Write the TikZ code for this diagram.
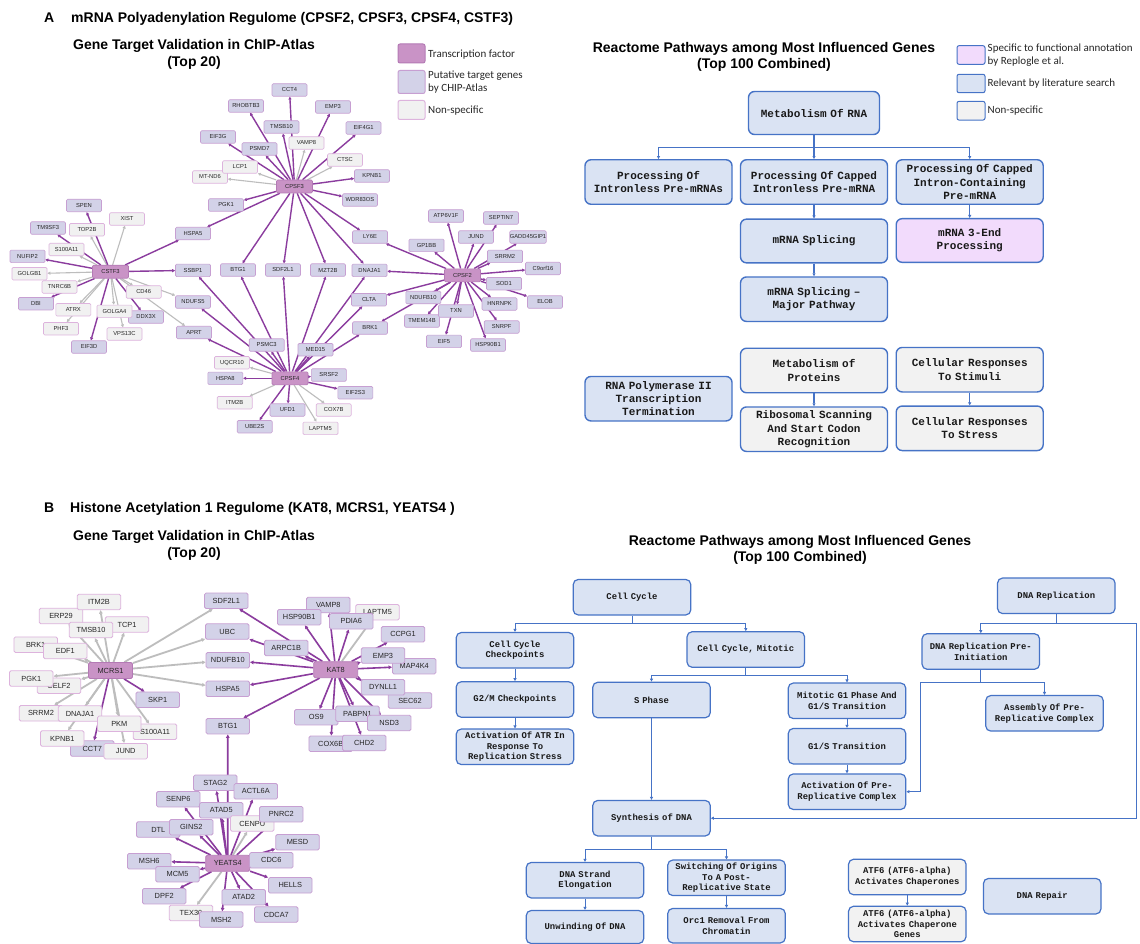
\documentclass[tikz,border=0pt]{standalone}
\usepackage{fontspec}
\setmainfont{Liberation Sans}
\newfontfamily\legfont{Carlito}
\newfontfamily\pwfont[WordSpace={1,0,0}]{Liberation Mono}
\usetikzlibrary{arrows.meta,calc}
\definecolor{tfc}{HTML}{C993C6}
\definecolor{tfb}{HTML}{B47AB5}
\definecolor{ptc}{HTML}{D3D2E8}
\definecolor{ptb}{HTML}{C79FD2}
\definecolor{nsc}{HTML}{F1F1F1}
\definecolor{nsb}{HTML}{DDB3DD}
\definecolor{pec}{HTML}{8B3C9E}
\definecolor{gec}{HTML}{BDBDBD}
\definecolor{pwblue}{HTML}{4673C6}
\definecolor{pwfill}{HTML}{DAE3F3}
\definecolor{pwgrey}{HTML}{F2F2F2}
\definecolor{pwpink}{HTML}{F2DBFC}
\pgfdeclarelayer{bg}
\pgfsetlayers{bg,main}
\tikzset{
 gA/.style={rounded corners=1.2pt, line width=0.6pt, minimum width=35pt, minimum height=12.5pt, inner sep=0pt, text=black!85, font=\fontsize{5.8}{6}\selectfont},
 tfA/.style={gA, fill=tfc, draw=tfb, minimum width=36pt, minimum height=13pt},
 ptA/.style={gA, fill=ptc, draw=ptb},
 nsA/.style={gA, fill=nsc, draw=nsb},
 gB/.style={rounded corners=1.5pt, line width=0.8pt, minimum width=43.5pt, minimum height=15.5pt, inner sep=0pt, text=black!85, font=\fontsize{7.4}{8}\selectfont},
 tfB/.style={gB, fill=tfc, draw=tfb, minimum width=44pt, minimum height=16pt},
 ptB/.style={gB, fill=ptc, draw=ptb},
 nsB/.style={gB, fill=nsc, draw=nsb},
 peA/.style={draw=pec, line width=1.4pt, -{Triangle[length=3pt,width=3pt]}},
 geA/.style={draw=gec, line width=1.1pt, -{Triangle[length=3pt,width=3pt]}},
 peB/.style={draw=pec, line width=1.6pt, -{Triangle[length=3.5pt,width=3.5pt]}},
 geB/.style={draw=gec, line width=1.8pt, -{Triangle[length=3.5pt,width=3.5pt]}},
 pwA/.style={rounded corners=6pt, draw=pwblue, line width=1.4pt, inner sep=0pt, align=center, text width=145pt, minimum width=147pt, minimum height=44.5pt, text=black!90, font=\pwfont\bfseries\fontsize{11}{13.3}\selectfont},
 pwB/.style={rounded corners=5pt, draw=pwblue, line width=1.2pt, inner sep=0pt, align=center, text width=115pt, minimum width=117.5pt, minimum height=35.5pt, text=black!90, font=\pwfont\bfseries\fontsize{8.9}{10.7}\selectfont},
 pcA/.style={draw=pwblue, line width=1.2pt, -{Triangle[length=3pt,width=3pt]}},
 pcB/.style={draw=pwblue, line width=1pt, -{Triangle[length=3pt,width=3pt]}},
 ttl/.style={font=\bfseries\fontsize{14}{16}\selectfont, inner sep=0pt},
 legbox/.style={rounded corners=2pt, line width=1pt, minimum width=27pt, inner sep=0pt},
 legtxt/.style={font=\legfont\fontsize{11}{13.5}\selectfont, inner sep=0pt, align=left, text=black!85},
}
\begin{document}
\begin{tikzpicture}[x=1pt,y=-1pt]
\begin{pgfonlayer}{bg}
\fill[white] (0,0) rectangle (1140,944);
\end{pgfonlayer}
\useasboundingbox (0,0) rectangle (1140,944);

% ---------- titles ----------
\node[ttl, anchor=base west] (tA) at (44,22.5) {A};
\node[ttl, anchor=base west] (tA2) at (71,22.5) {mRNA Polyadenylation Regulome (CPSF2, CPSF3, CPSF4, CSTF3)};
\node[ttl, anchor=base] (gA1) at (194,50) {Gene Target Validation in ChIP-Atlas};
\node[ttl, anchor=base] (gA2) at (194,66.5) {(Top 20)};
\node[ttl, anchor=base] (rA1) at (764,52.5) {Reactome Pathways among Most Influenced Genes};
\node[ttl, anchor=base] (rA2) at (764,69) {(Top 100 Combined)};
\node[ttl, anchor=base west] (tB) at (44,512.5) {B};
\node[ttl, anchor=base west] (tB2) at (70,512.5) {Histone Acetylation 1 Regulome (KAT8, MCRS1, YEATS4 )};
\node[ttl, anchor=base] (gB1) at (194,540) {Gene Target Validation in ChIP-Atlas};
\node[ttl, anchor=base] (gB2) at (194,557) {(Top 20)};
\node[ttl, anchor=base] (rB1) at (800,545) {Reactome Pathways among Most Influenced Genes};
\node[ttl, anchor=base] (rB2) at (800,561) {(Top 100 Combined)};

% ---------- legend network ----------
\node[legbox, fill=tfc, draw=tfb, minimum height=19pt] (lg1) at (411.5,53.5) {};
\node[legtxt, anchor=west] (lt1) at (428,54.5) {Transcription factor};
\node[legbox, fill=ptc, draw=ptb, minimum height=23pt] (lg2) at (411.5,82) {};
\node[legtxt, anchor=west] (lt2) at (428,82) {Putative target genes\\by CHIP-Atlas};
\node[legbox, fill=nsc, draw=nsb, minimum height=19pt] (lg3) at (411.5,110) {};
\node[legtxt, anchor=west] (lt3) at (428,110.5) {Non-specific};

% ---------- legend pathways ----------
\node[legbox, fill=pwpink, draw=pwblue, minimum height=18.6pt, minimum width=28pt] (lr1) at (971,55) {};
\node[legtxt, anchor=west] (lrt1) at (987.5,55) {Specific to functional annotation\\by Replogle et al.};
\node[legbox, fill=pwfill, draw=pwblue, minimum height=18.4pt, minimum width=28pt] (lr2) at (971,83.5) {};
\node[legtxt, anchor=west] (lrt2) at (987.5,83.5) {Relevant by literature search};
\node[legbox, fill=pwgrey, draw=pwblue, minimum height=18.7pt, minimum width=28pt] (lr3) at (971,110.7) {};
\node[legtxt, anchor=west] (lrt3) at (987.5,110.5) {Non-specific};

% ---------- panel A network nodes ----------
\node[ptA] (aCCT4) at (289.5,90) {CCT4};
\node[ptA] (aRHOBTB3) at (246,106) {RHOBTB3};
\node[ptA] (aEMP3) at (333,107) {EMP3};
\node[ptA] (aTMSB10) at (281.5,127) {TMSB10};
\node[ptA] (aEIF4G1) at (363.5,128) {EIF4G1};
\node[ptA] (aEIF3G) at (218,137) {EIF3G};
\node[ptA] (aPSMD7) at (259.5,149) {PSMD7};
\node[nsA] (aVAMP8) at (306.5,143) {VAMP8};
\node[nsA] (aCTSC) at (345,160) {CTSC};
\node[nsA] (aMTND6) at (210,177) {MT-ND6};
\node[nsA] (aLCP1) at (240,167) {LCP1};
\node[ptA] (aKPNB1) at (372,176) {KPNB1};
\node[ptA] (aWDR83OS) at (360,200) {WDR83OS};
\node[ptA] (aPGK1) at (226,205) {PGK1};
\node[ptA] (aHSPA5) at (193,233.5) {HSPA5};
\node[ptA] (aLY6E) at (370,237) {LY6E};
\node[ptA] (aSPEN) at (84,205.5) {SPEN};
\node[nsA] (aXIST) at (127,219) {XIST};
\node[ptA] (aTM9SF3) at (48,228) {TM9SF3};
\node[nsA] (aTOP2B) at (87,229.7) {TOP2B};
\node[nsA] (aS100A11) at (66.5,249.5) {S100A11};
\node[ptA] (aNUFIP2) at (27.5,256.3) {NUFIP2};
\node[nsA] (aGOLGB1) at (29.5,273.7) {GOLGB1};
\node[ptA] (aSSBP1) at (193,270.3) {SSBP1};
\node[ptA] (aBTG1) at (238,270) {BTG1};
\node[ptA] (aSDF2L1) at (283,270) {SDF2L1};
\node[ptA] (aMZT2B) at (328,270) {MZT2B};
\node[ptA] (aDBI) at (36,303.7) {DBI};
\node[nsA] (aTNRC6B) at (59.5,287) {TNRC6B};
\node[ptA] (aDDX3X) at (146,317) {DDX3X};
\node[nsA] (aCD46) at (143.7,292) {CD46};
\node[ptA] (aNDUFS5) at (193,302) {NDUFS5};
\node[nsA] (aATRX) at (73.3,309.7) {ATRX};
\node[nsA] (aGOLGA4) at (114.5,311.3) {GOLGA4};
\node[nsA] (aPHF3) at (61,328.7) {PHF3};
\node[nsA] (aVPS13C) at (124.5,334) {VPS13C};
\node[ptA] (aAPRT) at (194,332.5) {APRT};
\node[ptA] (aEIF3D) at (89,347) {EIF3D};
\node[ptA] (aATP6V1F) at (446,216) {ATP6V1F};
\node[ptA] (aSEPTIN7) at (501,218) {SEPTIN7};
\node[ptA] (aJUND) at (476,237) {JUND};
\node[ptA] (aGADD) at (528,237) {GADD45GIP1};
\node[ptA] (aGP1BB) at (426.5,245.3) {GP1BB};
\node[ptA] (aSRRM2) at (505,256.3) {SRRM2};
\node[ptA] (aC9orf16) at (543,268.5) {C9orf16};
\node[ptA] (aDNAJA1) at (369.5,270.3) {DNAJA1};
\node[ptA] (aELOB) at (545,302) {ELOB};
\node[ptA] (aSOD1) at (504,283.7) {SOD1};
\node[ptA] (aCLTA) at (369,299.7) {CLTA};
\node[ptA] (aNDUFB10) at (423.3,297.5) {NDUFB10};
\node[ptA] (aHNRNPK) at (499.5,304) {HNRNPK};
\node[ptA] (aTMEM14B) at (422,321) {TMEM14B};
\node[ptA] (aTXN) at (456,311) {TXN};
\node[ptA] (aBRK1) at (370,328) {BRK1};
\node[ptA] (aSNRPF) at (501.7,327) {SNRPF};
\node[ptA] (aEIF5) at (444,341.3) {EIF5};
\node[ptA] (aHSP90B1) at (488,345) {HSP90B1};
\node[ptA] (aPSMC3) at (266.7,345) {PSMC3};
\node[ptA] (aMED15) at (315.5,349.7) {MED15};
\node[nsA] (aUQCR10) at (232,362.7) {UQCR10};
\node[ptA] (aSRSF2) at (328.8,375) {SRSF2};
\node[ptA] (aHSPA8) at (225.3,378.3) {HSPA8};
\node[ptA] (aEIF2S3) at (355.3,392.7) {EIF2S3};
\node[nsA] (aITM2B) at (234.7,402.7) {ITM2B};
\node[ptA] (aUFD1) at (287.5,410) {UFD1};
\node[nsA] (aCOX7B) at (333.7,410) {COX7B};
\node[ptA] (aUBE2S) at (254.7,426.7) {UBE2S};
\node[nsA] (aLAPTM5) at (320.5,428.3) {LAPTM5};
\node[tfA] (aCPSF3) at (294.5,186.5) {CPSF3};
\node[tfA] (aCSTF3) at (110.5,271.7) {CSTF3};
\node[tfA] (aCPSF2) at (462.5,275.3) {CPSF2};
\node[tfA] (aCPSF4) at (290,378.3) {CPSF4};

\begin{pgfonlayer}{bg}
\foreach \t in {VAMP8,CTSC,LCP1,MTND6} \draw[geA] (aCPSF3) -- (a\t);
\foreach \t in {XIST,TOP2B,S100A11,GOLGB1,TNRC6B,ATRX,PHF3,GOLGA4,VPS13C,CD46,NDUFS5,APRT} \draw[geA] (aCSTF3) -- (a\t);
\foreach \t in {UQCR10,ITM2B,COX7B,LAPTM5} \draw[geA] (aCPSF4) -- (a\t);
\foreach \t in {CCT4,RHOBTB3,EMP3,TMSB10,EIF4G1,EIF3G,PSMD7,KPNB1,WDR83OS,PGK1,HSPA5,LY6E,BTG1,SDF2L1,MZT2B,DNAJA1} \draw[peA] (aCPSF3) -- (a\t);
\foreach \t in {SPEN,TM9SF3,NUFIP2,DBI,EIF3D,DDX3X,HSPA5,SSBP1} \draw[peA] (aCSTF3) -- (a\t);
\foreach \t in {ATP6V1F,SEPTIN7,JUND,GADD,GP1BB,SRRM2,C9orf16,DNAJA1,SOD1,ELOB,CLTA,NDUFB10,HNRNPK,TXN,TMEM14B,EIF5,HSP90B1,SNRPF,LY6E,BRK1} \draw[peA] (aCPSF2) -- (a\t);
\foreach \t in {HSPA8,UFD1,UBE2S,SRSF2,EIF2S3,PSMC3,MED15,APRT,NDUFS5,SSBP1,BTG1,SDF2L1,MZT2B,DNAJA1,CLTA,BRK1} \draw[peA] (aCPSF4) -- (a\t);
\end{pgfonlayer}

% ---------- panel A pathways ----------
\node[pwA, fill=pwfill, text width=129pt, minimum width=131pt, minimum height=43pt] (mor) at (814,113) {Metabolism Of RNA};
\node[pwA, fill=pwfill] (p1) at (658.5,182) {Processing Of\\Intronless Pre-mRNAs};
\node[pwA, fill=pwfill] (p2) at (814,182) {Processing Of Capped\\Intronless Pre-mRNA};
\node[pwA, fill=pwfill] (p3) at (969.7,182) {Processing Of Capped\\Intron-Containing\\Pre-mRNA};
\node[pwA, fill=pwfill, minimum height=43.7pt] (spl) at (814,241) {mRNA Splicing};
\node[pwA, fill=pwpink, minimum height=43.7pt] (end3) at (969.7,240.5) {mRNA 3-End\\Processing};
\node[pwA, fill=pwfill] (maj) at (814,299.2) {mRNA Splicing –\\Major Pathway};
\node[pwA, fill=pwgrey] (metp) at (814,370.5) {Metabolism of\\Proteins};
\node[pwA, fill=pwgrey] (stim) at (969.7,369.7) {Cellular Responses\\To Stimuli};
\node[pwA, fill=pwfill] (rnap) at (658.5,398.7) {RNA Polymerase II\\Transcription\\Termination};
\node[pwA, fill=pwgrey] (ribo) at (814,429.2) {Ribosomal Scanning\\And Start Codon\\Recognition};
\node[pwA, fill=pwgrey] (stress) at (969.7,428.3) {Cellular Responses\\To Stress};

\coordinate (jA) at (814,147.3);
\draw[pcA] (mor.south) -- (jA) -| (p1.north);
\draw[pcA] (jA) -| (p3.north);
\draw[pcA] (jA) -- (p2.north);
\draw[pcA] (p2.south) -- (spl.north);
\draw[pcA] (p3.south) -- (end3.north);
\draw[pcA] (spl.south) -- (maj.north);
\draw[pcA] (metp.south) -- (ribo.north);
\draw[pcA] (stim.south) -- (stress.north);

% ---------- panel B network nodes ----------
\node[nsB] (bERP29) at (61,616) {ERP29};
\node[nsB] (bITM2B) at (99,602) {ITM2B};
\node[nsB] (bTCP1) at (127,624.5) {TCP1};
\node[nsB] (bTMSB10) at (91,630) {TMSB10};
\node[nsB] (bBRK1) at (35.7,644.7) {BRK1};
\node[nsB] (bEDF1) at (65.3,651) {EDF1};
\node[nsB] (bCELF2) at (59,685.8) {CELF2};
\node[nsB] (bPGK1) at (31.3,678.5) {PGK1};
\node[nsB] (bSRRM2) at (41,713.3) {SRRM2};
\node[nsB] (bDNAJA1) at (80,713.5) {DNAJA1};
\node[nsB] (bS100A11) at (155,731.8) {S100A11};
\node[nsB] (bPKM) at (119.3,723.8) {PKM};
\node[ptB] (bCCT7) at (92.3,748.5) {CCT7};
\node[nsB] (bKPNB1) at (62.3,738.5) {KPNB1};
\node[nsB] (bJUND) at (125.7,751.2) {JUND};
\node[ptB] (bSKP1) at (157.7,699.8) {SKP1};
\node[tfB] (bMCRS1) at (110.5,670.5) {MCRS1};

\node[ptB] (bSDF2L1) at (226.3,600.8) {SDF2L1};
\node[ptB] (bUBC) at (227.3,631.5) {UBC};
\node[ptB] (bNDUFB10) at (227.8,660.2) {NDUFB10};
\node[ptB] (bHSPA5) at (227.8,688.8) {HSPA5};
\node[ptB] (bBTG1) at (227.8,726.2) {BTG1};
\node[ptB] (bVAMP8) at (328.3,605) {VAMP8};
\node[ptB] (bHSP90B1) at (299.2,617.2) {HSP90B1};
\node[nsB] (bLAPTM5) at (377.5,612.2) {LAPTM5};
\node[ptB] (bPDIA6) at (351.3,621.3) {PDIA6};
\node[ptB] (bCCPG1) at (403,634.2) {CCPG1};
\node[ptB] (bMAP4K4) at (414.2,666.2) {MAP4K4};
\node[ptB] (bEMP3) at (383,655.5) {EMP3};
\node[ptB] (bARPC1B) at (286.2,648) {ARPC1B};
\node[ptB] (bSEC62) at (410,700.5) {SEC62};
\node[ptB] (bDYNLL1) at (383,687.2) {DYNLL1};
\node[ptB] (bOS9) at (316.3,717.2) {OS9};
\node[ptB] (bPABPN1) at (357.5,713.8) {PABPN1};
\node[ptB] (bNSD3) at (389.2,723) {NSD3};
\node[ptB] (bCOX6B) at (330.7,743.8) {COX6B};
\node[ptB] (bCHD2) at (364.2,743) {CHD2};
\node[tfB] (bKAT8) at (335.7,669.7) {KAT8};

\node[ptB] (bSTAG2) at (215.3,782.8) {STAG2};
\node[ptB] (bACTL6A) at (255.8,791.3) {ACTL6A};
\node[ptB] (bSENP6) at (178.3,799.2) {SENP6};
\node[ptB] (bATAD5) at (221.3,810.3) {ATAD5};
\node[nsB] (bCENPU) at (252.3,823.5) {CENPU};
\node[ptB] (bPNRC2) at (281.3,814.2) {PNRC2};
\node[ptB] (bDTL) at (158.3,829.5) {DTL};
\node[ptB] (bGINS2) at (191.3,827.2) {GINS2};
\node[ptB] (bMESD) at (297.5,842.2) {MESD};
\node[ptB] (bMSH6) at (149.2,861.2) {MSH6};
\node[tfB] (bYEATS4) at (227.7,863.3) {YEATS4};
\node[ptB] (bCDC6) at (271.3,860.3) {CDC6};
\node[ptB] (bMCM5) at (177.5,874.2) {MCM5};
\node[ptB] (bHELLS) at (290.3,885.3) {HELLS};
\node[ptB] (bDPF2) at (164.2,896.2) {DPF2};
\node[ptB] (bATAD2) at (243.7,897.2) {ATAD2};
\node[nsB] (bTEX30) at (191,913) {TEX30};
\node[ptB] (bMSH2) at (221.3,919.5) {MSH2};
\node[ptB] (bCDCA7) at (276.3,914.5) {CDCA7};

\begin{pgfonlayer}{bg}
\foreach \t in {ITM2B,ERP29,TMSB10,TCP1,BRK1,EDF1,PGK1,CELF2,SRRM2,DNAJA1,PKM,S100A11,KPNB1,JUND,SDF2L1,UBC,NDUFB10,HSPA5} \draw[geB] (bMCRS1) -- (b\t);
\foreach \t in {SKP1,CCT7} \draw[peB] (bMCRS1) -- (b\t);
\draw[geB] (bKAT8) -- (bLAPTM5);
\foreach \t in {SDF2L1,UBC,NDUFB10,HSPA5,BTG1,ARPC1B,HSP90B1,VAMP8,PDIA6,CCPG1,EMP3,MAP4K4,DYNLL1,SEC62,NSD3,PABPN1,OS9,COX6B,CHD2} \draw[peB] (bKAT8) -- (b\t);
\foreach \t in {CENPU,TEX30} \draw[geB] (bYEATS4) -- (b\t);
\foreach \t in {BTG1,STAG2,ACTL6A,SENP6,ATAD5,PNRC2,DTL,GINS2,MESD,MSH6,CDC6,MCM5,HELLS,DPF2,ATAD2,MSH2,CDCA7} \draw[peB] (bYEATS4) -- (b\t);
\end{pgfonlayer}

% ---------- panel B pathways ----------
\node[pwB, fill=pwfill] (cc) at (632,597.2) {Cell Cycle};
\node[pwB, fill=pwfill] (ccc) at (515,650.3) {Cell Cycle\\Checkpoints};
\node[pwB, fill=pwfill] (ccm) at (745.8,649.5) {Cell Cycle, Mitotic};
\node[pwB, fill=pwfill] (g2m) at (515,699.5) {G2/M Checkpoints};
\node[pwB, fill=pwfill] (sph) at (651.5,700) {S Phase};
\node[pwB, fill=pwfill] (mg1) at (847,700.8) {Mitotic G1 Phase And\\G1/S Transition};
\node[pwB, fill=pwfill] (atr) at (515,746.8) {Activation Of ATR In\\Response To\\Replication Stress};
\node[pwB, fill=pwfill] (g1s) at (847,746.2) {G1/S Transition};
\node[pwB, fill=pwfill] (actpre) at (847,791.7) {Activation Of Pre-\\Replicative Complex};
\node[pwB, fill=pwfill] (dnar) at (1056.3,595.8) {DNA Replication};
\node[pwB, fill=pwfill] (pri) at (980.8,651.5) {DNA Replication Pre-\\Initiation};
\node[pwB, fill=pwfill] (asm) at (1044.5,713.3) {Assembly Of Pre-\\Replicative Complex};
\node[pwB, fill=pwfill] (syn) at (651.5,818.2) {Synthesis of DNA};
\node[pwB, fill=pwfill] (dse) at (585,880.2) {DNA Strand\\Elongation};
\node[pwB, fill=pwfill] (swi) at (726.5,877.8) {Switching Of Origins\\To A Post-\\Replicative State};
\node[pwB, fill=pwfill, minimum height=33pt] (unw) at (585,927) {Unwinding Of DNA};
\node[pwB, fill=pwfill, minimum height=34.5pt] (orc) at (726.5,925.7) {Orc1 Removal From\\Chromatin};
\node[pwB, fill=pwgrey] (atf1) at (907.3,877) {ATF6 (ATF6-alpha)\\Activates Chaperones};
\node[pwB, fill=pwgrey] (atf2) at (907.3,924) {ATF6 (ATF6-alpha)\\Activates Chaperone\\Genes};
\node[pwB, fill=pwfill] (dnarep) at (1042.2,896.2) {DNA Repair};

\coordinate (jB1) at (632,623.3);
\draw[pcB] (cc.south) -- (jB1) -| (ccc.north);
\draw[pcB] (jB1) -| (ccm.north);
\draw[pcB] (ccc.south) -- (g2m.north);
\draw[pcB] (g2m.south) -- (atr.north);
\coordinate (jB2) at (745.8,675);
\draw[pcB] (ccm.south) -- (jB2) -| (sph.north);
\draw[pcB] (jB2) -| (mg1.north);
\draw[pcB] (mg1.south) -- (g1s.north);
\draw[pcB] (g1s.south) -- (actpre.north);
\draw[pcB] (sph.south) -- (syn.north);
\coordinate (jB3) at (651.5,849);
\draw[pcB] (syn.south) -- (jB3) -| (dse.north);
\draw[pcB] (jB3) -| (swi.north);
\draw[pcB] (dse.south) -- (unw.north);
\draw[pcB] (swi.south) -- (orc.north);
\draw[pcB] (atf1.south) -- (atf2.north);
\coordinate (jB4) at (1056.3,623.3);
\coordinate (cR) at (1136.5,623.3);
\draw[pcB] (dnar.south) -- (jB4) -| (pri.north);
\draw[pcB] (jB4) -- (cR) |- (syn.east);
\coordinate (jB5) at (980.8,682.7);
\coordinate (cL) at (920.5,682.7);
\draw[pcB] (pri.south) -- (jB5) -| (asm.north);
\draw[pcB] (jB5) -- (cL) |- (actpre.east);
\end{tikzpicture}
\end{document}
